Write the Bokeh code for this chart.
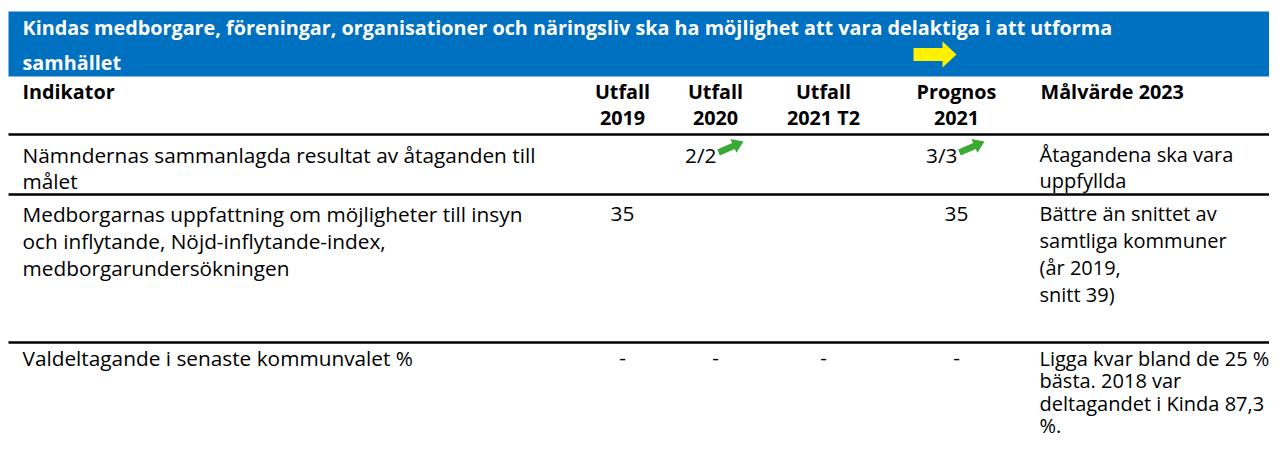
import math
from bokeh.plotting import figure
from bokeh.models import Range1d, ColumnDataSource
from bokeh.core.properties import value
from bokeh.embed import file_html
from bokeh.resources import INLINE

# ---------------- data ----------------
title_lines = [
    "Kindas medborgare, föreningar, organisationer och näringsliv ska ha möjlighet att vara delaktiga i att utforma",
    "samhället",
]
header_indicator = "Indikator"
column_headers = ["Utfall\n2019", "Utfall\n2020", "Utfall\n2021 T2", "Prognos\n2021"]
target_header = "Målvärde 2023"

indicators = [
    "Nämndernas sammanlagda resultat av åtaganden till\nmålet",
    "Medborgarnas uppfattning om möjligheter till insyn\noch inflytande, Nöjd-inflytande-index,\nmedborgarundersökningen",
    "Valdeltagande i senaste kommunvalet %",
]
utfall_2019 = ["", "35", "-"]
utfall_2020 = ["2/2", "", "-"]
utfall_2021_t2 = ["", "", "-"]
prognos_2021 = ["3/3", "35", "-"]
trend_2019 = ["", "", ""]
trend_2020 = ["up", "", ""]
trend_2021_t2 = ["", "", ""]
trend_prognos = ["up", "", ""]
malvarde_2023 = [
    "Åtagandena ska vara\nuppfyllda",
    "Bättre än snittet av\nsamtliga kommuner\n(år 2019,\nsnitt 39)",
    "Ligga kvar bland de 25 %\nbästa. 2018 var\ndeltagandet i Kinda 87,3\n%.",
]
goal_trend_column = 3  # yellow "right" arrow in the header, above Prognos

# ---------------- layout ----------------
W, H = 1269, 439
FONT = value("Open Sans")
FS = value("20.8px")
FS_T = value("20px")
FS_B = value("19.8px")
BLUE = "#0070C0"
GREEN = "#3AAA35"
YELLOW = "#FFF200"

col_x = [622, 715, 823, 956]
ind_x = 22
target_x = 1039
row_first_y = [154, 213, 357.5]
row_step = [26, 27, 22.5]
sep_y = [134, 194, 342]

p = figure(width=W, height=H, x_range=Range1d(0, W), y_range=Range1d(H, 0),
           toolbar_location=None, output_backend="svg", min_border=0,
           x_axis_location=None, y_axis_location=None)
p.grid.visible = False
p.outline_line_color = None
p.background_fill_color = "white"
p.border_fill_color = "white"

# title bar
p.quad(left=8, right=W, top=11, bottom=76, fill_color=BLUE, line_color=None)


def add_text(xs, ys, texts, align="left", bold=False, color="black", size=None):
    src = ColumnDataSource(dict(x=xs, y=ys, t=texts))
    p.text(x="x", y="y", text="t", source=src, text_font=FONT,
           text_font_size=size if size is not None else (FS_B if bold else FS),
           text_font_style="bold" if bold else "normal", text_color=color,
           text_align=align, text_baseline="middle")


def split_cell(x, y0, s, step):
    xs, ys, ts = [], [], []
    for i, line in enumerate(s.split("\n")):
        if line:
            xs.append(x); ys.append(y0 + i * step); ts.append(line)
    return xs, ys, ts


# title
add_text([ind_x, ind_x], [27, 62], title_lines, bold=True, color="white")

# header row
add_text([ind_x], [91], [header_indicator], bold=True)
hx, hy, ht = [], [], []
for cx, h in zip(col_x, column_headers):
    a, b, c = split_cell(cx, 91, h, 26)
    hx += a; hy += b; ht += c
add_text(hx, hy, ht, align="center", bold=True)
add_text([target_x + 1], [91], [target_header], bold=True)

# separators
p.segment(x0=[8] * 3, x1=[W] * 3, y0=sep_y, y1=sep_y, line_color="black", line_width=2.5)

# body
bx, by, bt = [], [], []
for r, s in enumerate(indicators):
    a, b, c = split_cell(ind_x, row_first_y[r], s, row_step[r])
    bx += a; by += b; bt += c
add_text(bx, by, bt)
tx, ty, tt = [], [], []
for r, s in enumerate(malvarde_2023):
    a, b, c = split_cell(target_x, row_first_y[r], s, row_step[r])
    tx += a; ty += b; tt += c
add_text(tx, ty, tt, size=FS_T)


def block_arrow(x0, y0, x1, y1, shaft, head_w, head_len):
    dx, dy = x1 - x0, y1 - y0
    L = math.hypot(dx, dy)
    ux, uy = dx / L, dy / L
    nx, ny = -uy, ux
    bxx, byy = x1 - ux * head_len, y1 - uy * head_len
    pts = [
        (x0 + nx * shaft / 2, y0 + ny * shaft / 2),
        (bxx + nx * shaft / 2, byy + ny * shaft / 2),
        (bxx + nx * head_w / 2, byy + ny * head_w / 2),
        (x1, y1),
        (bxx - nx * head_w / 2, byy - ny * head_w / 2),
        (bxx - nx * shaft / 2, byy - ny * shaft / 2),
        (x0 - nx * shaft / 2, y0 - ny * shaft / 2),
    ]
    return [q[0] for q in pts], [q[1] for q in pts]


values = [utfall_2019, utfall_2020, utfall_2021_t2, prognos_2021]
trends = [trend_2019, trend_2020, trend_2021_t2, trend_prognos]
cx_c, cy_c, ct_c = [], [], []
cx_r, cy_r, ct_r = [], [], []
arrows_x, arrows_y = [], []
for ci, (vals, trs) in enumerate(zip(values, trends)):
    for r, (v, t) in enumerate(zip(vals, trs)):
        if not v:
            continue
        y = row_first_y[r]
        if t == "up":
            cx_r.append(col_x[ci] + 1); cy_r.append(y); ct_r.append(v)
            ax, ay = block_arrow(col_x[ci] + 3, y - 2, col_x[ci] + 28, y - 13, 6.5, 15, 11)
            arrows_x.append(ax); arrows_y.append(ay)
        else:
            cx_c.append(col_x[ci]); cy_c.append(y); ct_c.append(v)
add_text(cx_c, cy_c, ct_c, align="center")
add_text(cx_r, cy_r, ct_r, align="right")
p.patches(xs=arrows_x, ys=arrows_y, fill_color=GREEN, line_color=None)

gx = col_x[goal_trend_column]
yx, yy = block_arrow(gx - 43, 54, gx, 54, 13, 26, 14)
p.patch(x=yx, y=yy, fill_color=YELLOW, line_color=None)

open("out.html", "w").write(file_html(p, INLINE))
